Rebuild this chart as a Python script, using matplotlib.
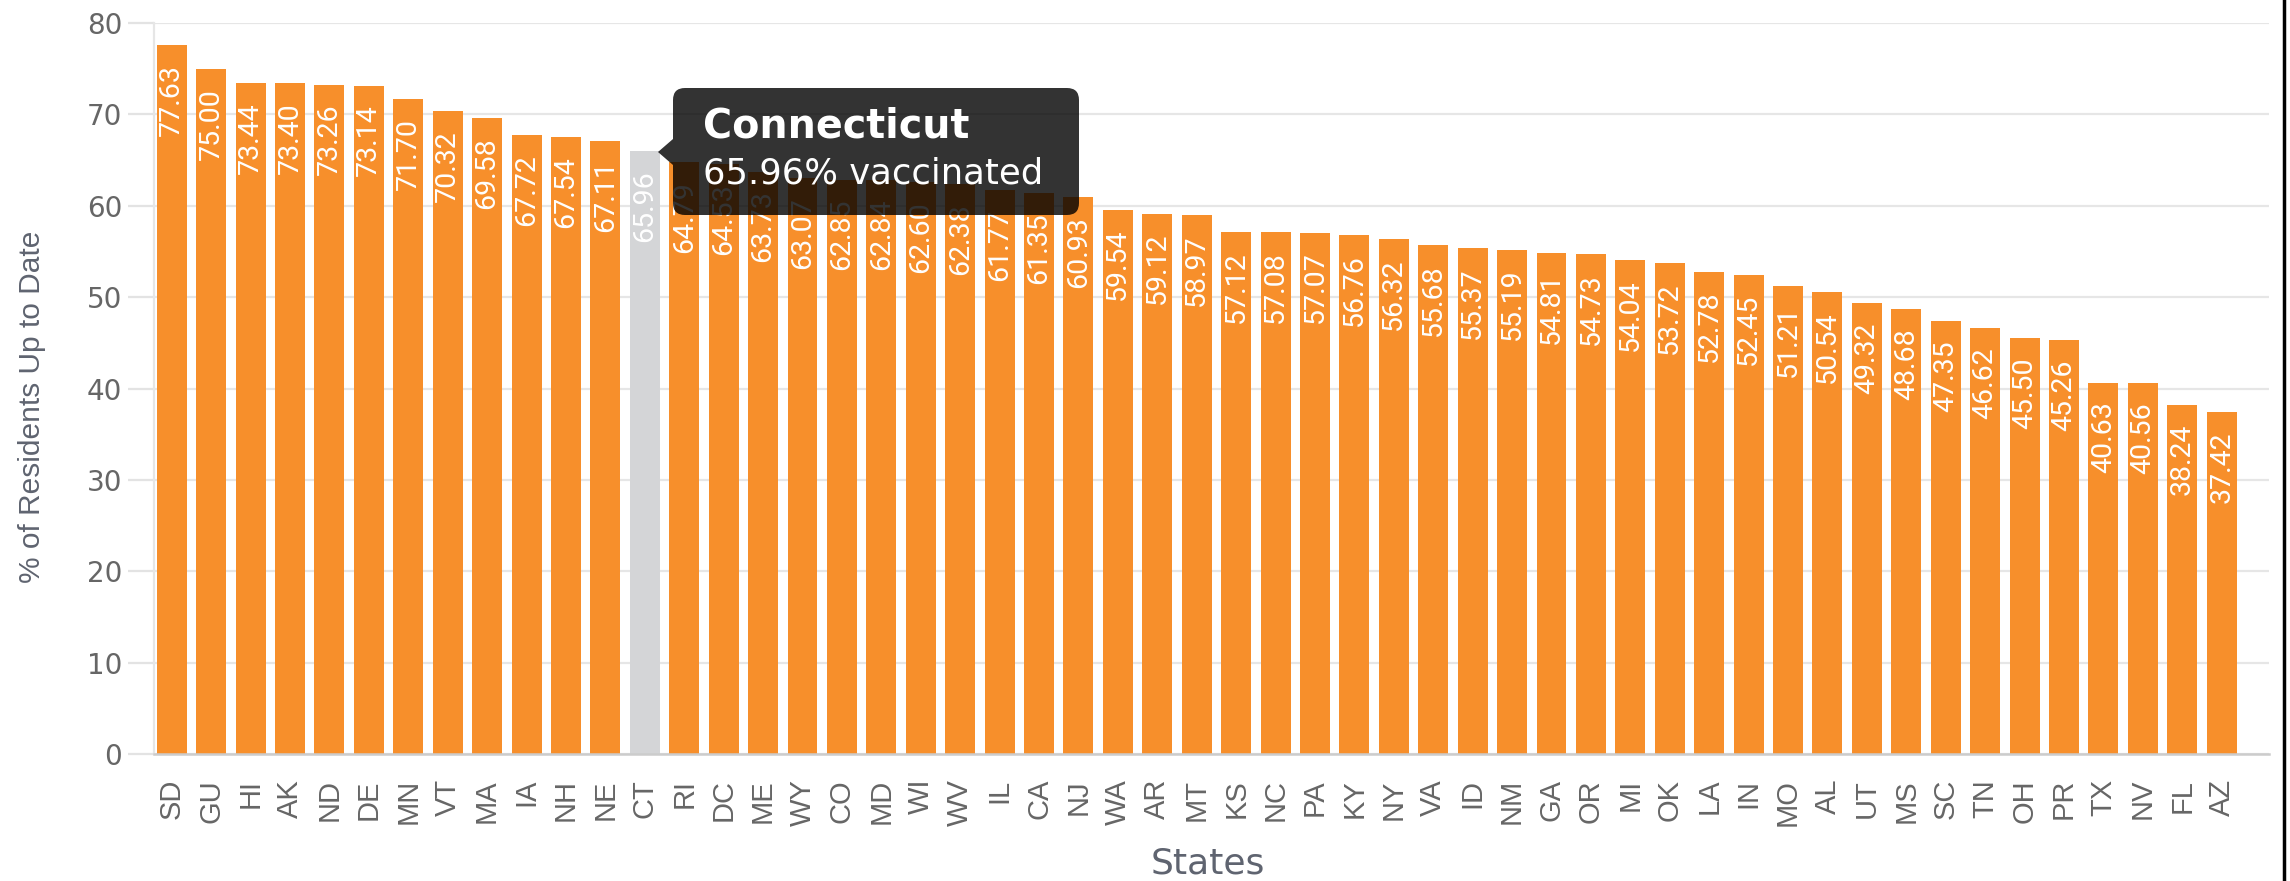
import numpy as np
import matplotlib
matplotlib.use('Agg')
import matplotlib.pyplot as plt
from matplotlib.patches import FancyBboxPatch, Polygon
from matplotlib.transforms import IdentityTransform
from matplotlib.lines import Line2D

states = ['SD', 'GU', 'HI', 'AK', 'ND', 'DE', 'MN', 'VT', 'MA', 'IA', 'NH', 'NE', 'CT',
          'RI', 'DC', 'ME', 'WY', 'CO', 'MD', 'WI', 'WV', 'IL', 'CA', 'NJ',
          'WA', 'AR', 'MT', 'KS', 'NC', 'PA', 'KY', 'NY', 'VA', 'ID', 'NM', 'GA', 'OR',
          'MI', 'OK', 'LA', 'IN', 'MO', 'AL', 'UT', 'MS', 'SC', 'TN', 'OH', 'PR', 'TX',
          'NV', 'FL', 'AZ']
pct = [77.63, 75.00, 73.44, 73.40, 73.26, 73.14, 71.70, 70.32, 69.58, 67.72, 67.54, 67.11, 65.96,
       64.79, 64.53, 63.73, 63.07, 62.85, 62.84, 62.60, 62.38, 61.77, 61.35, 60.93,
       59.54, 59.12, 58.97, 57.12, 57.08, 57.07, 56.76, 56.32, 55.68, 55.37, 55.19, 54.81, 54.73,
       54.04, 53.72, 52.78, 52.45, 51.21, 50.54, 49.32, 48.68, 47.35, 46.62, 45.50, 45.26, 40.63,
       40.56, 38.24, 37.42]
yticks = [0, 10, 20, 30, 40, 50, 60, 70, 80]
hover_state = 'CT'
hover_name = 'Connecticut'

W, H = 2290, 881
fig = plt.figure(figsize=(W / 100, H / 100), dpi=100)
ax = fig.add_axes([154 / W, 1 - 754 / H, (2269 - 154) / W, (754 - 23) / H])

x = np.arange(len(states))
colors = ['#d4d5d7' if s == hover_state else '#f78f2b' for s in states]
ax.bar(x, pct, width=0.76, color=colors, zorder=2)

for xi, v in zip(x, pct):
    ax.annotate('%.2f' % v, (xi, v), xytext=(0, -19), textcoords='offset pixels',
                rotation=90, ha='center', va='top', color='white',
                fontsize=20.5, family='Roboto', zorder=3)

ax.set_xlim(-0.45, 53.2)
ax.set_ylim(0, 80)
ax.set_yticks(yticks)
ax.set_xticks(x)
ax.set_xticklabels(states, rotation=90, fontsize=21, color='#666666', family='Liberation Sans')
ax.tick_params(axis='x', length=0, pad=18)
ax.tick_params(axis='y', length=19, width=1.6, color='#e3e3e3', pad=4,
               labelsize=20, labelcolor='#666666')
ax.grid(axis='y', color='#e6e6e6', lw=1.6, zorder=0)
for s in ['top', 'right']:
    ax.spines[s].set_visible(False)
ax.spines['left'].set_color('#e6e6e6')
ax.spines['left'].set_linewidth(1.6)
ax.spines['bottom'].set_color('#cccccc')
ax.spines['bottom'].set_linewidth(1.8)
ax.spines['bottom'].set_zorder(3)

fig.text(32 / W, 1 - 407 / H, '% of Residents Up to Date', rotation=90, ha='center', va='center',
         fontsize=21.5, color='#5f6470', family='Liberation Sans')
fig.text(1208 / W, 1 - 864 / H, 'States', ha='center', va='center',
         fontsize=26, color='#5f6470')

# tooltip over the hovered bar (pixel coords, y from top)
def px(xp, yp):
    return (xp, H - yp)

box = FancyBboxPatch(px(673, 215), 1079 - 673, 215 - 88,
                     boxstyle='round,pad=0,rounding_size=12',
                     transform=IdentityTransform(), facecolor='black', alpha=0.8,
                     edgecolor='none', zorder=10)
fig.patches.append(box)
tri = Polygon([px(673, 139), px(658, 152), px(673, 165)], closed=True,
              transform=IdentityTransform(), facecolor='black', alpha=0.8,
              edgecolor='none', zorder=10)
fig.patches.append(tri)

hv = pct[states.index(hover_state)]
fig.text(703 / W, 1 - 138 / H, hover_name, ha='left', va='baseline', color='white',
         fontsize=28.5, fontweight='bold', zorder=11)
fig.text(703 / W, 1 - 184 / H, '%.2f%% vaccinated' % hv, ha='left', va='baseline',
         color='white', fontsize=25.5, zorder=11)

# screenshot border on the right
fig.lines.append(Line2D([2284 / W, 2284 / W], [0, 1], transform=fig.transFigure,
                        color='black', lw=2.5))

fig.savefig('out.png', dpi=100)
